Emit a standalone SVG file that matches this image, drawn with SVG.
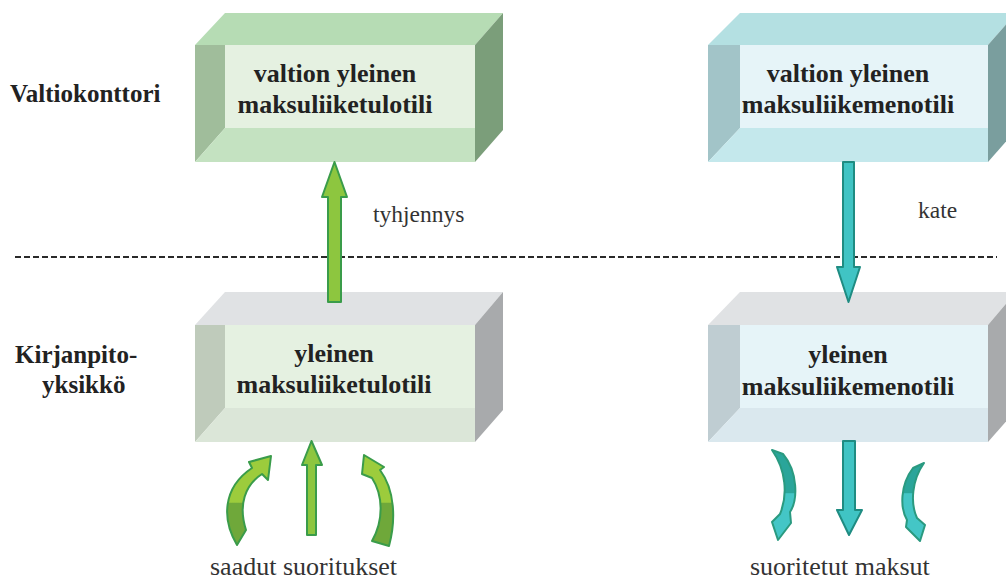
<svg xmlns="http://www.w3.org/2000/svg" width="1006" height="581" viewBox="0 0 1006 581">
<style>
.bt{font-family:"Liberation Serif",serif;font-weight:bold;font-size:26px;fill:#222;text-anchor:middle}
.lb{font-family:"Liberation Serif",serif;font-weight:bold;font-size:25px;fill:#222}
.rt{font-family:"Liberation Serif",serif;font-size:26px;fill:#333}
.sm{font-family:"Liberation Serif",serif;font-size:23.5px;fill:#333}
.ga{fill:#8dc63f;stroke:#3a9c4a;stroke-width:2;stroke-linejoin:round}
.ta{fill:#40c4c4;stroke:#1f8c82;stroke-width:2;stroke-linejoin:round}
</style>
<defs>
<linearGradient id="gcurve" gradientUnits="userSpaceOnUse" x1="0" y1="450" x2="0" y2="545">
<stop offset="0" stop-color="#9ccc3c"/><stop offset="0.55" stop-color="#9ccc3c"/><stop offset="0.56" stop-color="#6fa83a"/><stop offset="1" stop-color="#6fa83a"/>
</linearGradient>
<linearGradient id="tcurve" gradientUnits="userSpaceOnUse" x1="0" y1="450" x2="0" y2="545">
<stop offset="0" stop-color="#2aa59a"/><stop offset="0.45" stop-color="#2aa59a"/><stop offset="0.46" stop-color="#44c6c6"/><stop offset="1" stop-color="#44c6c6"/>
</linearGradient>
</defs>
<rect width="1006" height="581" fill="#ffffff"/>

<text class="lb" x="10" y="102">Valtiokonttori</text>
<text class="lb" x="15" y="363">Kirjanpito-</text>
<text class="lb" x="42" y="393">yksikkö</text>

<g id="top-left">
<polygon points="195,45 225,13 503,13 475,45" fill="#b6dcb4"/>
<polygon points="475,45 503,13 503,130 475,162" fill="#7b9e7a"/>
<polygon points="195,45 225,45 225,128 195,162" fill="#a0bd9b"/>
<polygon points="225,128 475,128 475,162 195,162" fill="#c4e2c1"/>
<rect x="225" y="45" width="250" height="83" fill="#e5f1e1"/>
<text class="bt" x="335" y="82">valtion yleinen</text>
<text class="bt" x="335" y="113">maksuliiketulotili</text>
</g>

<g id="top-right">
<polygon points="708,45 740,13 1016,13 988,45" fill="#b4e0e2"/>
<polygon points="988,45 1016,13 1016,130 988,162" fill="#7a9e9e"/>
<polygon points="708,45 740,45 740,128 708,162" fill="#a2c4c8"/>
<polygon points="740,128 988,128 988,162 708,162" fill="#c4e8ec"/>
<rect x="740" y="45" width="248" height="83" fill="#e6f4f8"/>
<text class="bt" x="848" y="82">valtion yleinen</text>
<text class="bt" x="848" y="113">maksuliikemenotili</text>
</g>

<g id="bottom-left">
<polygon points="195,325 225,292 503,292 475,325" fill="#e0e2e4"/>
<polygon points="475,325 503,292 503,410 475,442" fill="#a8aaac"/>
<polygon points="195,325 225,325 225,408 195,442" fill="#bfcbbb"/>
<polygon points="225,408 475,408 475,442 195,442" fill="#dbe6d8"/>
<rect x="225" y="325" width="250" height="83" fill="#e5f1e1"/>
<text class="bt" x="334" y="362">yleinen</text>
<text class="bt" x="334" y="393">maksuliiketulotili</text>
</g>

<g id="bottom-right">
<polygon points="708,325 740,292 1016,292 988,325" fill="#e0e2e4"/>
<polygon points="988,325 1016,292 1016,410 988,442" fill="#a8aaac"/>
<polygon points="708,325 740,325 740,408 708,442" fill="#bfcdd2"/>
<polygon points="740,408 988,408 988,442 708,442" fill="#dae8ee"/>
<rect x="740" y="325" width="248" height="83" fill="#e6f4f8"/>
<text class="bt" x="848" y="363">yleinen</text>
<text class="bt" x="848" y="395">maksuliikemenotili</text>
</g>

<g id="connectors">
<line x1="15" y1="257" x2="997" y2="257" stroke="#2a2a2a" stroke-width="2" stroke-dasharray="6,3"/>
<polygon class="ga" points="328,302 341,302 341,197 347,197 334.5,162 322,197 328,197"/>
<polygon class="ta" points="843,162 854,162 854,267 860,267 848.5,302 837,267 843,267"/>
<polygon class="ga" points="307,535 316,535 316,465 322,465 311.5,441 302,465 307,465"/>
<polygon class="ta" points="843,441 855,441 855,510 862,510 849,535 837,510 843,510"/>
<path fill="url(#gcurve)" stroke="#3a9c4a" stroke-width="2" stroke-linejoin="round" d="M237,545 C222,520 222,488 252,468 L249,462 L271,456 L268,480 L262,474 C245,485 238,505 246,530 Z"/>
<path fill="url(#gcurve)" stroke="#3a9c4a" stroke-width="2" stroke-linejoin="round" d="M364,455 L384,467 L380,470 C395,490 396,520 389,546 L372,541 C384,520 383,495 372,478 L362,474 Z"/>
<path fill="url(#tcurve)" stroke="#2a9a80" stroke-width="2" stroke-linejoin="round" d="M772,450 L783,454 C798,472 798,500 790,512 L791,523 L778,540 L772,522 L780,514 C788,495 786,470 772,450 Z"/>
<path fill="url(#tcurve)" stroke="#2a9a80" stroke-width="2" stroke-linejoin="round" d="M924,463 L913,468 C900,485 900,508 907,520 L906,527 L920,541 L925,525 L917,518 C910,503 912,480 924,463 Z"/>
<text class="sm" x="373" y="222">tyhjennys</text>
<text class="sm" x="918" y="218">kate</text>
</g>

<text class="rt" x="210" y="575">saadut suoritukset</text>
<text class="rt" x="750" y="575">suoritetut maksut</text>
</svg>
